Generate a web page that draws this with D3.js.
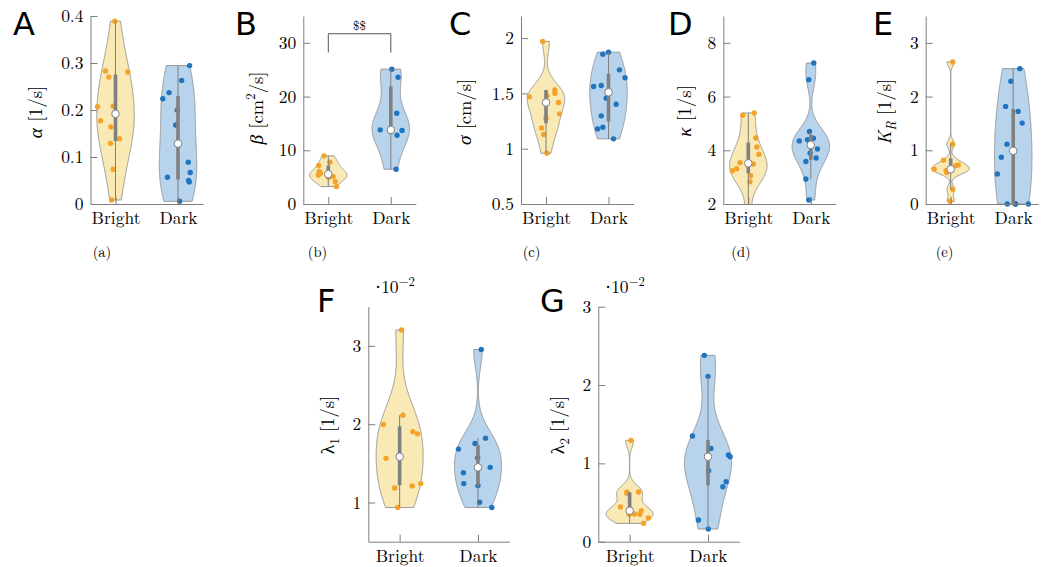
<!DOCTYPE html>
<html><head><meta charset="utf-8">
<script src="https://cdn.jsdelivr.net/npm/d3@7"></script>
<style>body{margin:0;background:#fff}svg{display:block}</style>
</head><body>
<svg id="c" width="1043" height="567"></svg>
<script>
// ---------------- DATA ----------------
const categories = ["Bright", "Dark"];
// each point: [value, horizontal jitter in category units]
const A_bright = [[0.389,-0.01],[0.283,-0.16],[0.270,-0.106],[0.281,0.196],[0.207,-0.286],[0.208,-0.037],[0.177,-0.238],[0.164,-0.074],[0.139,0.063],[0.129,-0.079],[0.074,-0.037],[0.0085,-0.063]];
const A_dark = [[0.2945,0.185],[0.263,0.058],[0.237,-0.143],[0.224,-0.243],[0.1996,-0.01],[0.168,-0.037],[0.089,0.164],[0.067,0.196],[0.057,-0.169],[0.047,0.18],[0.0057,0.026],[0.05,0.17]];
const B_bright = [[8.96,-0.069],[7.78,0.026],[7.16,-0.153],[6.04,-0.143],[5.72,-0.127],[5.41,-0.159],[4.92,0.005],[5.10,0.079],[4.17,0.111],[3.24,0.132]];
const B_dark = [[25.1,0.016],[23.6,0.116],[16.9,0.095],[13.8,-0.169],[13.7,0.18],[12.8,0.1],[6.47,0.085]];
const C_bright = [[1.970,-0.053],[1.469,-0.265],[1.532,0.143],[1.502,0.143],[1.478,0.016],[1.418,0.2],[1.315,0.217],[1.276,0],[1.188,-0.069],[1.128,-0.037],[0.959,0.016]];
const C_dark = [[1.873,0],[1.855,-0.09],[1.713,0.175],[1.641,0.265],[1.562,-0.238],[1.572,-0.116],[1.457,-0.037],[1.402,0.122],[1.297,-0.116],[1.194,-0.09],[1.179,-0.175],[1.089,0.08]];
const D_bright = [[5.30,-0.09],[5.39,0.095],[4.46,0.12],[4.12,0.137],[3.85,0.17],[3.54,-0.132],[3.49,0.08],[3.31,-0.185],[3.24,-0.254],[3.05,0.037],[2.83,0.026],[1.6,0]];
const D_dark = [[7.25,0.048],[6.63,-0.032],[4.70,-0.021],[4.35,-0.185],[4.39,-0.053],[4.45,0.042],[4.05,0.106],[3.89,-0.011],[3.71,0.085],[3.58,-0.079],[2.93,-0.079],[2.15,-0.032]];
const E_bright = [[2.645,0.032],[1.114,0.032],[0.815,-0.116],[0.647,-0.265],[0.728,0.122],[0.716,0.085],[0.622,-0.074],[0.585,-0.063],[0.274,0.032],[0.05,-0.011],[0.64,0]];
const E_dark = [[2.52,0.106],[2.284,-0.037],[1.817,-0.122],[1.724,0.079],[1.506,0.143],[1.114,-0.1],[0.871,-0.19],[0.56,-0.254],[0,-0.095],[0,0.037],[0,0.243],[0,0.037]];
const F_bright = [[3.203,0.025],[2.114,0.042],[1.996,-0.207],[1.903,0.169],[1.877,0.228],[1.564,-0.173],[1.242,0.27],[1.212,0.16],[1.186,-0.063],[0.936,-0.025],[1.585,0]];
const F_dark = [[2.953,0.042],[1.822,0.097],[1.754,-0.038],[1.682,-0.249],[1.572,-0.004],[1.449,0.156],[1.381,-0.186],[1.242,-0.181],[1.216,0],[1.004,0.021],[0.936,0.177]];
const G_bright = [[1.294,0.017],[0.634,-0.034],[0.634,0.114],[0.443,-0.118],[0.396,0.148],[0.349,0.131],[0.349,-0.005],[0.353,0.063],[0.302,0.24],[0.234,0.177],[0.62,-0.034]];
const G_dark = [[2.379,-0.046],[2.111,0],[1.349,-0.198],[1.191,0.038],[1.106,0.262],[1.085,0.283],[0.906,0.008],[0.766,0.232],[0.702,0.19],[0.277,-0.122],[0.162,0.004]];

// box statistics per group: [q1, median, q3, lower whisker, upper whisker]
const A_box = [[0.134,0.192,0.2755,0.0085,0.389],[0.052,0.1285,0.23,0.0057,0.2945]];
const B_box = [[4.92,5.57,7.16,3.24,8.96],[13.0,13.8,21.9,6.47,25.1]];
const C_box = [[1.23,1.418,1.53,0.959,1.532],[1.245,1.51,1.677,1.089,1.873]];
const D_box = [[3.145,3.515,4.29,1.6,5.39],[3.645,4.2,4.575,2.93,4.70]];
const E_box = [[0.6,0.647,0.85,0.274,1.114],[0,0.99,1.77,0,2.52]];
const F_box = [[1.22,1.585,1.973,0.936,2.114],[1.2225,1.449,1.736,0.936,1.822]];
const G_box = [[0.349,0.396,0.63,0.234,0.634],[0.718,1.085,1.30,0.162,2.111]];

// axis limits and ticks
const A_ylim = [0,0.4], A_ticks = [0,0.1,0.2,0.3,0.4], A_tickLabels = ["0","0.1","0.2","0.3","0.4"];
const B_ylim = [0,35],  B_ticks = [0,10,20,30],        B_tickLabels = ["0","10","20","30"];
const C_ylim = [0.5,2.2], C_ticks = [0.5,1,1.5,2],     C_tickLabels = ["0.5","1","1.5","2"];
const D_ylim = [2,9],   D_ticks = [2,4,6,8],           D_tickLabels = ["2","4","6","8"];
const E_ylim = [0,3.5], E_ticks = [0,1,2,3],           E_tickLabels = ["0","1","2","3"];
const F_ylim = [0.5,3.5], F_ticks = [1,2,3],           F_tickLabels = ["1","2","3"];
const G_ylim = [0,3],   G_ticks = [0,1,2,3],           G_tickLabels = ["0","1","2","3"];
const xlim = [0.6, 2.4];

// significance bracket in B: [from cat, to cat, top value, foot value]
const B_sig = [1, 2, 31.7, 28.2];
const B_sigLabel = "$$";

// ---------------- DRAWING ----------------
const svg = d3.select("#c");
const serif = "'Latin Modern Roman','Liberation Serif',serif";
const greek = "'Liberation Serif',serif";
const sans = "'DejaVu Sans','Liberation Sans',sans-serif";
const AXIS = "#7f7f7f";
const fills = ["#f9e9b4", "#b8d4ec"];
const dots = ["#f4a32a", "#1f74bf"];
const violinWidth = 0.3;

function rich(sel, parts, size, anchor) {
  const t = sel.append("text").style("font-family", serif).attr("font-size", size)
    .attr("text-anchor", anchor || "middle").attr("fill", "#000");
  let cur = 0;
  parts.forEach(p => {
    const ts = t.append("tspan").text(p.t);
    if (p.i) ts.style("font-style", "italic");
    if (p.g) ts.style("font-family", greek).attr("font-size", size * 1.05);
    let target = 0;
    if (p.s === "sup") { ts.attr("font-size", size * 0.72); target = -size * 0.42; }
    if (p.s === "sub") { ts.attr("font-size", size * 0.72); target = size * 0.25; }
    ts.attr("dy", target - cur);
    cur = target;
  });
  return t;
}

function kde(vals) {
  const n = vals.length, sorted = vals.slice().sort(d3.ascending);
  const med = d3.median(vals);
  const mad = d3.median(vals.map(v => Math.abs(v - med)));
  let sig = mad / 0.6745;
  if (!(sig > 0)) sig = d3.deviation(vals) || 1;
  const bw = sig * Math.pow(4 / (3 * n), 0.2);
  const lo = sorted[0], hi = sorted[n - 1];
  const pts = d3.range(241).map(i => {
    const v = lo + (hi - lo) * i / 240;
    return [v, d3.sum(vals, x => Math.exp(-0.5 * ((v - x) / bw) ** 2))];
  });
  const mx = d3.max(pts, p => p[1]);
  return pts.map(p => [p[0], p[1] / mx]);
}

const panels = [
  {id:"A", left:90.5, top:16, bottom:204, width:112.5, ylim:A_ylim, ticks:A_ticks, labels:A_tickLabels, groups:[A_bright,A_dark], box:A_box,
   letter:[13,35], ylab:[36,112], ylabParts:[{t:"α",i:1,g:1},{t:" [1/s]"}], caption:["(a)",102,257]},
  {id:"B", left:303.3, top:16, bottom:204, width:112.5, ylim:B_ylim, ticks:B_ticks, labels:B_tickLabels, groups:[B_bright,B_dark], box:B_box,
   letter:[235,35], ylab:[257,108], ylabParts:[{t:"β",i:1,g:1},{t:" [cm"},{t:"2",s:"sup"},{t:"/s]"}], caption:["(b)",317.5,257], sig:true},
  {id:"C", left:521, top:16, bottom:204, width:112.5, ylim:C_ylim, ticks:C_ticks, labels:C_tickLabels, groups:[C_bright,C_dark], box:C_box,
   letter:[449,35], ylab:[465,112], ylabParts:[{t:"σ",i:1,g:1},{t:" [cm/s]"}], caption:["(c)",531.6,257]},
  {id:"D", left:723.3, top:16, bottom:204, width:112.5, ylim:D_ylim, ticks:D_ticks, labels:D_tickLabels, groups:[D_bright,D_dark], box:D_box,
   letter:[668,35], ylab:[685,111], ylabParts:[{t:"κ",i:1,g:1},{t:" [1/s]"}], caption:["(d)",741,257]},
  {id:"E", left:925.7, top:16, bottom:204, width:112.5, ylim:E_ylim, ticks:E_ticks, labels:E_tickLabels, groups:[E_bright,E_dark], box:E_box,
   letter:[873,35], ylab:[885,112], ylabParts:[{t:"K",i:1},{t:"R",i:1,s:"sub"},{t:" [1/s]"}], caption:["(e)",944.5,257]},
  {id:"F", left:368.3, top:306.7, bottom:541.7, width:141, ylim:F_ylim, ticks:F_ticks, labels:F_tickLabels, groups:[F_bright,F_dark], box:F_box,
   letter:[317,312], ylab:[328,425], ylabParts:[{t:"λ",g:1},{t:"1",s:"sub"},{t:" [1/s]"}], mult:[375,293]},
  {id:"G", left:598.3, top:306.7, bottom:541.7, width:141, ylim:G_ylim, ticks:G_ticks, labels:G_tickLabels, groups:[G_bright,G_dark], box:G_box,
   letter:[540,312], ylab:[558,425], ylabParts:[{t:"λ",g:1},{t:"2",s:"sub"},{t:" [1/s]"}], mult:[605,293]}
];

panels.forEach(P => {
  const g = svg.append("g");
  const xs = d3.scaleLinear().domain(xlim).range([P.left, P.left + P.width]);
  const ys = d3.scaleLinear().domain(P.ylim).range([P.bottom, P.top]);
  const clipId = "clip" + P.id;
  svg.append("clipPath").attr("id", clipId).append("rect")
    .attr("x", P.left).attr("y", P.top).attr("width", P.width).attr("height", P.bottom - P.top);

  P.groups.forEach((pts, gi) => {
    const pos = gi + 1;
    const vals = pts.map(p => p[0]);
    const dens = kde(vals);
    const right = dens.map(d => [xs(pos + d[1] * violinWidth), ys(d[0])]);
    const left = dens.slice().reverse().map(d => [xs(pos - d[1] * violinWidth), ys(d[0])]);
    g.append("path").attr("clip-path", `url(#${clipId})`)
      .attr("d", d3.line()(right.concat(left)) + "Z")
      .attr("fill", fills[gi]).attr("stroke", "#8e8e8e").attr("stroke-width", 0.9);

    const inside = pts.filter(p => p[0] >= P.ylim[0] && p[0] <= P.ylim[1]);
    g.selectAll(null).data(inside).enter().append("circle")
      .attr("cx", p => xs(pos + p[1])).attr("cy", p => ys(p[0])).attr("r", 2.7)
      .attr("fill", dots[gi]);

    const b = P.box[gi];
    const cg = g.append("g").attr("clip-path", `url(#${clipId})`);
    cg.append("line").attr("x1", xs(pos)).attr("x2", xs(pos))
      .attr("y1", ys(b[3])).attr("y2", ys(b[4])).attr("stroke", AXIS).attr("stroke-width", 1);
    cg.append("rect").attr("x", xs(pos) - 1.8).attr("width", 3.6)
      .attr("y", ys(b[2])).attr("height", ys(b[0]) - ys(b[2])).attr("fill", "#808080");
    g.append("circle").attr("cx", xs(pos)).attr("cy", ys(b[1])).attr("r", 3.8)
      .attr("fill", "#fff").attr("stroke", "#808080").attr("stroke-width", 1);
  });

  // axes
  const ya = g.append("g").attr("transform", `translate(${P.left},0)`)
    .call(d3.axisLeft(ys).tickValues(P.ticks).tickFormat((d, i) => P.labels[i]).tickSizeInner(-7).tickSizeOuter(0).tickPadding(7));
  const xa = g.append("g").attr("transform", `translate(0,${P.bottom})`)
    .call(d3.axisBottom(xs).tickValues([1, 2]).tickFormat((d, i) => categories[i]).tickSizeInner(-7).tickSizeOuter(0).tickPadding(8));
  [ya, xa].forEach(a => {
    a.attr("font-family", null).attr("font-size", null);
    a.selectAll("path,line").attr("stroke", AXIS);
    a.selectAll("text").attr("fill", "#000").style("font-family", serif).style("font-size", "17.5px");
  });

  // panel letter
  svg.append("text").attr("x", P.letter[0]).attr("y", P.letter[1]).text(P.id)
    .style("font-family", sans).attr("font-size", 32).attr("fill", "#000");

  // y label
  const yl = svg.append("g").attr("transform", `translate(${P.ylab[0]},${P.ylab[1]}) rotate(-90)`);
  rich(yl, P.ylabParts, 18.5).attr("y", 6);

  if (P.caption) {
    svg.append("text").attr("x", P.caption[1]).attr("y", P.caption[2]).attr("text-anchor", "middle")
      .style("font-family", serif).attr("font-size", 14.5).text(P.caption[0]);
  }
  if (P.mult) {
    rich(svg.append("g").attr("transform", `translate(${P.mult[0]},${P.mult[1]})`),
      [{t:"·",g:1},{t:"10"},{t:"−2",s:"sup"}], 17.5, "start");
  }
  if (P.sig) {
    const [c1, c2, top, foot] = B_sig;
    g.append("path").attr("d", `M${xs(c1)},${ys(foot)}V${ys(top)}H${xs(c2)}V${ys(foot)}`)
      .attr("fill", "none").attr("stroke", "#555").attr("stroke-width", 1);
    g.append("text").attr("x", (xs(c1) + xs(c2)) / 2).attr("y", ys(top) - 4).attr("text-anchor", "middle")
      .style("font-family", serif).attr("font-size", 13).text(B_sigLabel);
  }
});
</script>
</body></html>
